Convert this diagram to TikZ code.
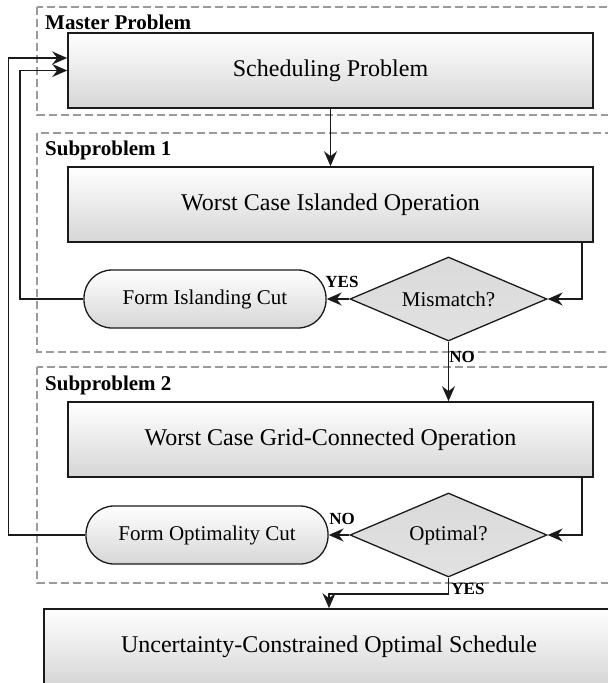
\documentclass[tikz,border=0pt]{standalone}
\usepackage{fontspec}
\setmainfont{Liberation Serif}
\usepackage{tikz}
\usetikzlibrary{arrows.meta, positioning, calc, shapes.geometric}
\usepackage{xcolor}
\definecolor{frm}{HTML}{9A9A9A}
\definecolor{edg}{HTML}{1A1A1A}
\definecolor{shd}{HTML}{D6D6D6}
\definecolor{dshd}{HTML}{DADADA}

\begin{document}
\begin{tikzpicture}[
      x=1pt, y=-1pt,
      font=\fontsize{21}{24}\selectfont,
      box/.style={rectangle, draw=edg, line width=1.6pt, top color=white,
                  bottom color=shd, minimum width=525pt, minimum height=75pt,
                  inner sep=0pt, font=\fontsize{24}{28}\selectfont},
      cut/.style={rectangle, rounded corners=28pt, draw=edg, line width=1.3pt,
                  top color=white, bottom color=shd, minimum width=242pt,
                  minimum height=58pt, inner sep=0pt},
      dec/.style={diamond, aspect=2.35, draw=edg, line width=1.3pt,
                  top color=dshd, bottom color=dshd!80, minimum width=197pt,
                  minimum height=84pt, inner sep=0pt},
      grp/.style={draw=frm, dash pattern=on 8pt off 4pt, line width=1.2pt},
      ttl/.style={font=\fontsize{21}{24}\selectfont\bfseries, anchor=west,
                  inner sep=0pt},
      yn/.style={font=\fontsize{17}{20}\selectfont\bfseries, inner sep=0pt},
      arr/.style={-{Stealth[length=15pt, width=13pt, inset=5pt]},
                  line width=1.7pt, edg},
    ]
    \clip (0,0) rectangle (608,683);

    % dashed group frames
    \draw[grp] (37,7)   rectangle (640,115);
    \draw[grp] (37,133) rectangle (640,352);
    \draw[grp] (37,367) rectangle (640,583);
    \node[ttl] (tmaster) at (45,22)  {Master Problem};
    \node[ttl] (tsub1)   at (45,150) {Subproblem 1};
    \node[ttl] (tsub2)   at (45,385) {Subproblem 2};

    % blocks
    \node[box] (sched) at (330.5,70.5)  {Scheduling Problem};
    \node[box] (isl)   at (330.5,204.5) {Worst Case Islanded Operation};
    \node[dec] (mm)    at (448.5,299)   {Mismatch?};
    \node[cut] (fic)   at (205,299)     {Form Islanding Cut};
    \node[box] (gco)   at (330.5,439.5) {Worst Case Grid-Connected Operation};
    \node[dec] (opt)   at (448.5,535)   {Optimal?};
    \node[cut] (foc)   at (207,535)     {Form Optimality Cut};
    \node[box, minimum width=570pt, minimum height=76pt]
               (final) at (329,647)     {Uncertainty-Constrained Optimal Schedule};

    % return lanes on the left
    \coordinate (inL)  at (20,0);
    \coordinate (outL) at (8.5,0);

    % connectors
    \draw[arr] (sched) -- (isl);
    \draw[arr] ([xshift=-12pt]isl.south east) |- (mm);
    \draw[arr] (mm.west) -- (fic.east);
    \draw[arr] (fic.west) -- (fic.west -| inL) |- (sched.west);
    \draw[arr] (mm.south) -- (mm.south |- gco.north);
    \draw[arr] ([xshift=-12pt]gco.south east) |- (opt);
    \draw[arr] (opt.west) -- (foc.east);
    \draw[arr] (foc.west) -- (foc.west -| outL) |- ([yshift=12.5pt]sched.west);
    \draw[arr] (opt.south) -- ++(0,16) -| (final.north);

    % branch labels
    \node[yn] (y1) at (342,282) {YES};
    \node[yn] (n1) at (462,357) {NO};
    \node[yn] (n2) at (342,519) {NO};
    \node[yn] (y2) at (468,589) {YES};
\end{tikzpicture}
\end{document}
